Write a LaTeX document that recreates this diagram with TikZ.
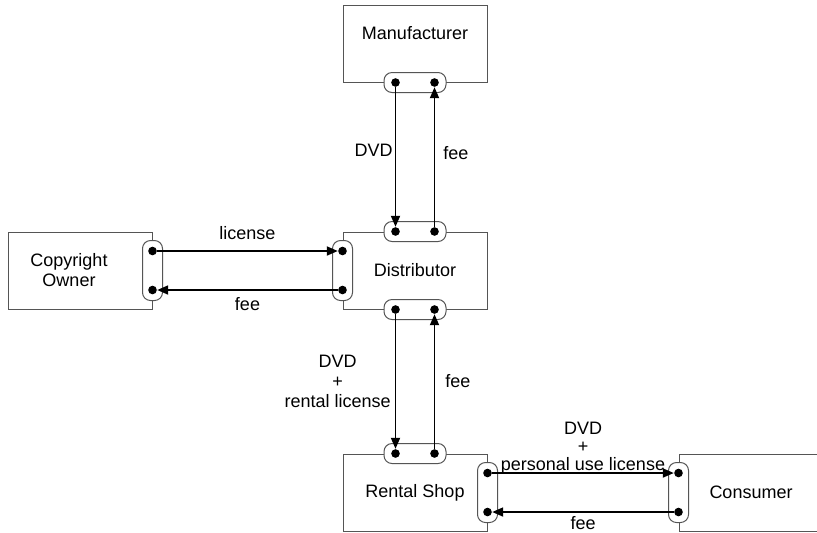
\documentclass[tikz,border=0pt]{standalone}
\usepackage{fontspec}
\setmainfont{Liberation Sans}
\usetikzlibrary{arrows.meta, positioning}
\definecolor{edgegray}{RGB}{85,85,85}

\begin{document}
\begin{tikzpicture}[
    x=0.5pt, y=-0.5pt,
    font=\fontsize{9}{10}\selectfont,
    box/.style={draw=edgegray, minimum width=72pt, minimum height=38.5pt,
                line width=0.5pt, text centered},
    hport/.style={draw=edgegray, fill=white, rounded corners=4pt, inner sep=0pt,
                  minimum width=31pt, minimum height=10pt, line width=0.5pt},
    vport/.style={hport, minimum width=10pt, minimum height=30pt},
    dot/.style={circle, fill=black, inner sep=0pt, minimum size=4.3pt},
    arr/.style={-{Triangle[length=5.5pt, width=4.5pt]}, line width=0.9pt},
]
\clip (0,0) rectangle (817,532);
\fill[white] (0,0) rectangle (817,532);

% parties
\node[box] (dist) at (415,270.5) {Distributor};
\node[box, above=74.5pt of dist, text depth=11pt] (maker) {Manufacturer};
\node[box, left=95pt of dist,
      label={[align=center, xshift=-5.5pt]center:Copyright\\Owner}] (owner) {};
\node[box, below=72pt of dist] (shop) {Rental Shop};
\node[box, right=95.5pt of shop] (user) {Consumer};

% connection ports on the box edges
\node[hport] (makerport) at (maker.south) {};
\node[hport] (disttop) at (dist.north) {};
\node[hport] (distbot) at (dist.south) {};
\node[vport] (distleft) at (dist.west) {};
\node[vport] (ownerport) at (owner.east) {};
\node[hport] (shoptop) at (shop.north) {};
\node[vport] (shopright) at (shop.east) {};
\node[vport] (userport) at (user.west) {};

% terminals
\node[dot] (m1) at ([xshift=-9.75pt]makerport.center) {};
\node[dot] (m2) at ([xshift=9.75pt]makerport.center) {};
\node[dot] (dt1) at ([xshift=-9.75pt]disttop.center) {};
\node[dot] (dt2) at ([xshift=9.75pt]disttop.center) {};
\node[dot] (db1) at ([xshift=-9.75pt]distbot.center) {};
\node[dot] (db2) at ([xshift=9.75pt]distbot.center) {};
\node[dot] (dl1) at ([yshift=9.75pt]distleft.center) {};
\node[dot] (dl2) at ([yshift=-9.75pt]distleft.center) {};
\node[dot] (o1) at ([yshift=9.75pt]ownerport.center) {};
\node[dot] (o2) at ([yshift=-9.75pt]ownerport.center) {};
\node[dot] (rt1) at ([xshift=-9.75pt]shoptop.center) {};
\node[dot] (rt2) at ([xshift=9.75pt]shoptop.center) {};
\node[dot] (rr1) at ([yshift=9.75pt]shopright.center) {};
\node[dot] (rr2) at ([yshift=-9.75pt]shopright.center) {};
\node[dot] (c1) at ([yshift=9.75pt]userport.center) {};
\node[dot] (c2) at ([yshift=-9.75pt]userport.center) {};

% flows
\draw[arr] (m1) -- node[left, inner sep=1pt, pos=0.45] {DVD} (dt1);
\draw[arr] (dt2) -- node[right, inner sep=4pt, pos=0.53] {fee} (m2);
\draw[arr] (o1) -- node[above, inner sep=5pt] {license} (dl1);
\draw[arr] (dl2) -- node[below] {fee} (o2);
\draw[arr] (db1) -- node[left, inner sep=2pt, align=center] {DVD\\+\\rental license} (rt1);
\draw[arr] (rt2) -- node[right, inner sep=5pt] {fee} (db2);
\draw[arr] (rr1) -- node[above, inner sep=-1pt, align=center,
                        font=\fontsize{9}{9}\selectfont] {DVD\\+\\personal use license} (c1);
\draw[arr] (c2) -- node[below, inner sep=2pt] {fee} (rr2);
\end{tikzpicture}
\end{document}
